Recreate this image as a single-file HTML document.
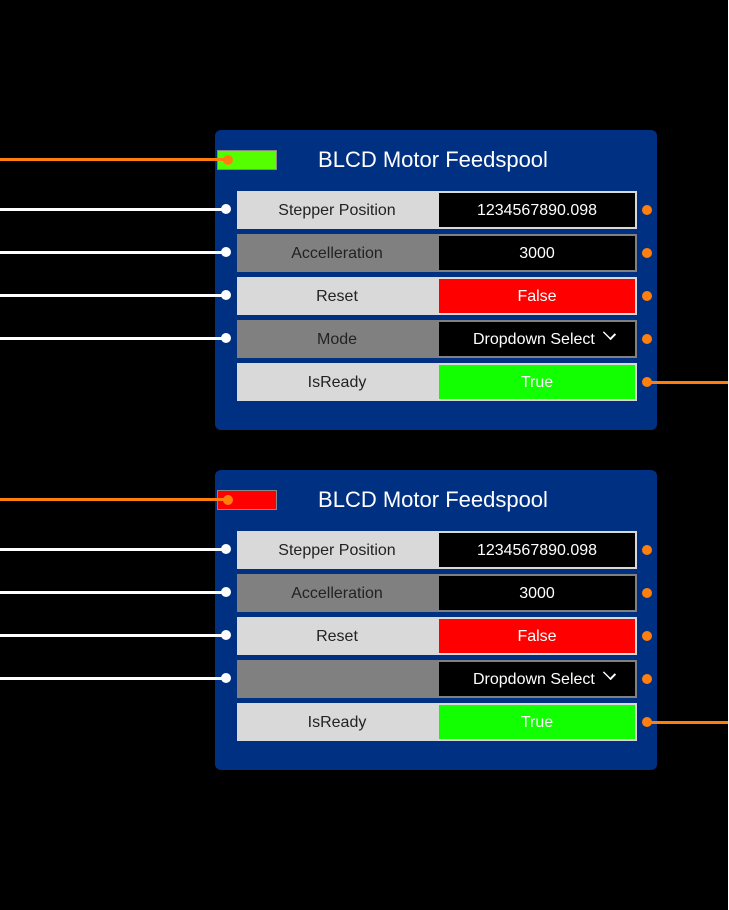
<!DOCTYPE html>
<html><head><style>
body{margin:0;width:729px;height:910px;background:#000;position:relative;overflow:hidden;font-family:"Liberation Sans","DejaVu Sans",sans-serif}
.a{position:absolute}
.panel{position:absolute;left:215px;width:442px;height:300px;background:#003082;border-radius:6px}
.title{position:absolute;left:0;width:442px;text-align:center;top:17px;font-size:22px;color:#fff;text-indent:-6px}
.row{position:absolute;left:22px;width:400px;height:38px}
.lbl{position:absolute;left:0;top:1px;width:200px;height:38px;line-height:38px;text-align:center;font-size:16px;color:#222}
.val{position:absolute;left:202px;top:2px;width:196px;height:34px;line-height:36px;text-align:center;font-size:16px;color:#fff}
.dot{position:absolute;width:10px;height:10px;border-radius:50%}
.ln{position:absolute;height:3px}
.chev{display:inline-block;width:9px;height:9px;border-right:2px solid #fff;border-bottom:2px solid #fff;transform:translateY(-5px) rotate(45deg) scaleY(0.7);margin-left:9px}
</style></head><body>
<div class="a" style="left:728px;top:0;width:1px;height:910px;background:#fff"></div>

<!-- Panel 1 -->
<div class="panel" style="top:130px">
 <div class="a" style="left:2px;top:20px;width:58px;height:18px;background:#55ff00;border:1px solid #888"></div>
 <div class="title">BLCD Motor Feedspool</div>
 <div class="row" style="top:61px;background:#d9d9d9"><div class="lbl">Stepper Position</div><div class="val" style="background:#000">1234567890.098</div></div>
 <div class="row" style="top:104px;background:#808080"><div class="lbl">Accelleration</div><div class="val" style="background:#000">3000</div></div>
 <div class="row" style="top:147px;background:#d9d9d9"><div class="lbl">Reset</div><div class="val" style="background:#ff0000">False</div></div>
 <div class="row" style="top:190px;background:#808080"><div class="lbl">Mode</div><div class="val" style="background:#000;text-align:left;padding-left:34px;width:162px">Dropdown Select<span class="chev"></span></div></div>
 <div class="row" style="top:233px;background:#d9d9d9"><div class="lbl">IsReady</div><div class="val" style="background:#11ff00">True</div></div>
</div>
<div class="ln" style="left:0;top:158px;width:228px;background:#ff7f0e"></div>
<div class="dot" style="left:223px;top:155px;background:#ff7f0e"></div>
<div class="ln" style="left:0;top:208px;width:226px;background:#fff"></div><div class="dot" style="left:221px;top:204px;background:#fff"></div>
<div class="ln" style="left:0;top:251px;width:226px;background:#fff"></div><div class="dot" style="left:221px;top:247px;background:#fff"></div>
<div class="ln" style="left:0;top:294px;width:226px;background:#fff"></div><div class="dot" style="left:221px;top:290px;background:#fff"></div>
<div class="ln" style="left:0;top:337px;width:226px;background:#fff"></div><div class="dot" style="left:221px;top:333px;background:#fff"></div>
<div class="dot" style="left:642px;top:205px;background:#ff7f0e"></div>
<div class="dot" style="left:642px;top:248px;background:#ff7f0e"></div>
<div class="dot" style="left:642px;top:291px;background:#ff7f0e"></div>
<div class="dot" style="left:642px;top:334px;background:#ff7f0e"></div>
<div class="dot" style="left:642px;top:377px;background:#ff7f0e"></div>
<div class="ln" style="left:647px;top:381px;width:81px;background:#ff7f0e"></div>

<!-- Panel 2 -->
<div class="panel" style="top:470px">
 <div class="a" style="left:2px;top:20px;width:58px;height:18px;background:#ff0000;border:1px solid #888"></div>
 <div class="title">BLCD Motor Feedspool</div>
 <div class="row" style="top:61px;background:#d9d9d9"><div class="lbl">Stepper Position</div><div class="val" style="background:#000">1234567890.098</div></div>
 <div class="row" style="top:104px;background:#808080"><div class="lbl">Accelleration</div><div class="val" style="background:#000">3000</div></div>
 <div class="row" style="top:147px;background:#d9d9d9"><div class="lbl">Reset</div><div class="val" style="background:#ff0000">False</div></div>
 <div class="row" style="top:190px;background:#808080"><div class="lbl"></div><div class="val" style="background:#000;text-align:left;padding-left:34px;width:162px">Dropdown Select<span class="chev"></span></div></div>
 <div class="row" style="top:233px;background:#d9d9d9"><div class="lbl">IsReady</div><div class="val" style="background:#11ff00">True</div></div>
</div>
<div class="ln" style="left:0;top:498px;width:228px;background:#ff7f0e"></div>
<div class="dot" style="left:223px;top:495px;background:#ff7f0e"></div>
<div class="ln" style="left:0;top:548px;width:226px;background:#fff"></div><div class="dot" style="left:221px;top:544px;background:#fff"></div>
<div class="ln" style="left:0;top:591px;width:226px;background:#fff"></div><div class="dot" style="left:221px;top:587px;background:#fff"></div>
<div class="ln" style="left:0;top:634px;width:226px;background:#fff"></div><div class="dot" style="left:221px;top:630px;background:#fff"></div>
<div class="ln" style="left:0;top:677px;width:226px;background:#fff"></div><div class="dot" style="left:221px;top:673px;background:#fff"></div>
<div class="dot" style="left:642px;top:545px;background:#ff7f0e"></div>
<div class="dot" style="left:642px;top:588px;background:#ff7f0e"></div>
<div class="dot" style="left:642px;top:631px;background:#ff7f0e"></div>
<div class="dot" style="left:642px;top:674px;background:#ff7f0e"></div>
<div class="dot" style="left:642px;top:717px;background:#ff7f0e"></div>
<div class="ln" style="left:647px;top:721px;width:81px;background:#ff7f0e"></div>
</body></html>
